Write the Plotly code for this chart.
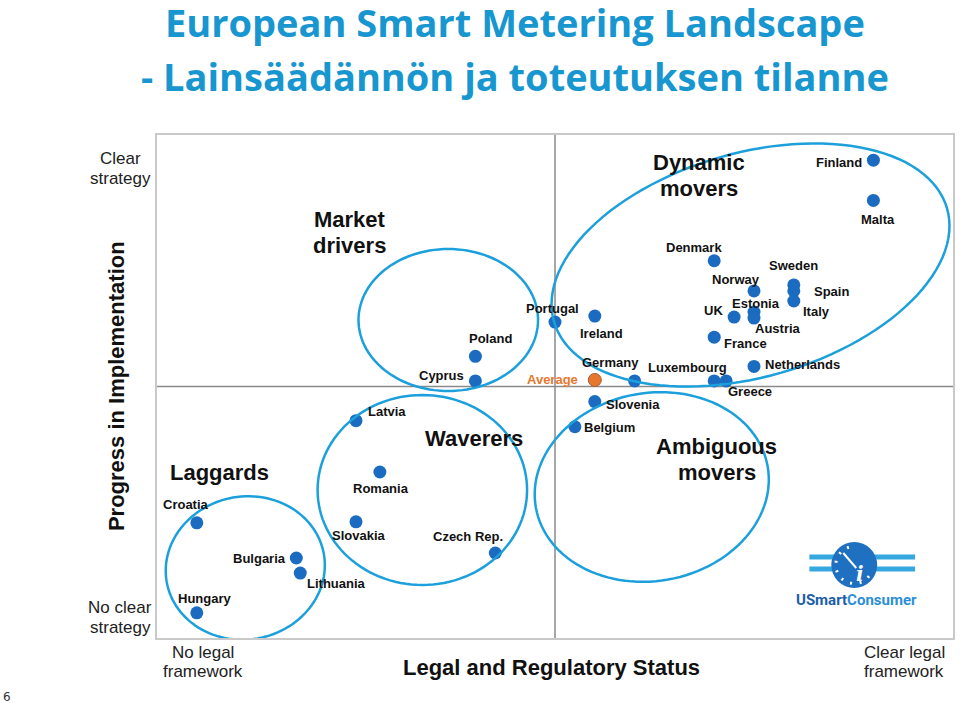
import numpy as np
import plotly.graph_objects as go

# ---------------- data ----------------
countries = ["Finland", "Malta", "Denmark", "Norway", "Sweden", "Spain", "Italy",
             "Estonia", "Austria", "UK", "France", "Netherlands", "Luxembourg",
             "Greece", "Germany", "Portugal", "Ireland", "Poland", "Cyprus",
             "Slovenia", "Belgium", "Latvia", "Romania", "Slovakia", "Czech Rep.",
             "Croatia", "Bulgaria", "Lithuania", "Hungary"]
legal_status = [90.0, 90.0, 70.0, 75.0, 80.0, 80.0, 80.0,
                75.0, 75.0, 72.5, 70.0, 75.0, 70.0,
                71.5, 60.0, 50.0, 55.0, 40.0, 40.0,
                55.0, 52.5, 25.0, 28.0, 25.0, 42.5,
                5.0, 17.5, 18.0, 5.0]
implementation = [95.0, 87.0, 75.0, 69.0, 70.2, 69.0, 67.0,
                  64.8, 63.6, 63.8, 59.8, 54.0, 51.1,
                  51.1, 51.1, 62.8, 64.0, 56.0, 51.1,
                  47.0, 42.0, 43.2, 33.0, 23.1, 16.9,
                  22.9, 15.9, 12.9, 5.0]
average_label = "Average"
average_legal = 55.0
average_implementation = 51.3

# ---------------- layout geometry (pixels) ----------------
W, H = 960, 703
PL, PR, PT, PB = 157, 955, 135, 638


def px2x(px):
    return (px - PL) / (PR - PL) * 100.0


def py2y(py):
    return (PB - py) / (PB - PT) * 100.0


def px2paper(px):
    return (px - PL) / (PR - PL)


def py2paper(py):
    return (PB - py) / (PB - PT)


# label offsets in pixels (dx right, dy down), anchor
label_style = {
    "Finland": (-9, 2, "right"), "Malta": (5, 19, "center"),
    "Denmark": (-20, -13, "center"), "Norway": (-18, -11, "center"),
    "Sweden": (0, -19, "center"), "Spain": (18, 1, "left"),
    "Italy": (7, 11, "left"), "Estonia": (2, -9, "center"),
    "Austria": (24, 10, "center"), "UK": (-21, -7, "center"),
    "France": (31, 6, "center"), "Netherlands": (9, -2, "left"),
    "Luxembourg": (-27, -13, "center"), "Greece": (24, 11, "center"),
    "Germany": (-24, -18, "center"), "Portugal": (-3, -14, "center"),
    "Ireland": (7, 17, "center"), "Poland": (15, -18, "center"),
    "Cyprus": (-34, -5, "center"), "Slovenia": (38, 3, "center"),
    "Belgium": (35, 1, "center"), "Latvia": (31, -9, "center"),
    "Romania": (1, 16, "center"), "Slovakia": (3, 14, "center"),
    "Czech Rep.": (-27, -16, "center"), "Croatia": (-11, -18, "center"),
    "Bulgaria": (-37, 0, "center"), "Lithuania": (36, 10, "center"),
    "Hungary": (8, -14, "center"),
}

DOT = "#1b6cc0"
ELL = "#1ca0dc"
LABEL_FONT = "Liberation Sans, Arial, sans-serif"

fig = go.Figure()

fig.add_trace(go.Scatter(
    x=legal_status, y=implementation, mode="markers",
    marker=dict(size=13, color=DOT, line=dict(width=0)),
    text=countries, hoverinfo="text", showlegend=False, cliponaxis=False))
fig.add_trace(go.Scatter(
    x=[average_legal], y=[average_implementation], mode="markers",
    marker=dict(size=13, color="#e8772e", line=dict(width=1, color="#a85a2a")),
    text=[average_label], hoverinfo="text", showlegend=False, cliponaxis=False))

annotations = []
for c, xv, yv in zip(countries, legal_status, implementation):
    dx, dy, anc = label_style[c]
    annotations.append(dict(
        x=xv, y=yv, xref="x", yref="y", text=c, showarrow=False,
        xshift=dx, yshift=-dy, xanchor=anc, yanchor="middle",
        font=dict(family=LABEL_FONT, size=13, color="#111111", weight="bold")))
annotations.append(dict(
    x=average_legal, y=average_implementation, xref="x", yref="y",
    text=average_label, showarrow=False, xshift=-15, yshift=0,
    xanchor="right", yanchor="middle",
    font=dict(family=LABEL_FONT, size=13, color="#e8772e", weight="bold")))


def text_px(px, py, txt, size, color="#111111", weight="normal",
            family=LABEL_FONT, anchor="center", angle=0):
    annotations.append(dict(
        x=px2paper(px), y=py2paper(py), xref="paper", yref="paper",
        text=txt, showarrow=False, xanchor=anchor, yanchor="middle",
        textangle=angle,
        font=dict(family=family, size=size, color=color, weight=weight)))


# group labels
group_lines = [
    ("Market", 350, 219), ("drivers", 350, 245),
    ("Dynamic", 700, 162), ("movers", 700, 188),
    ("Waverers", 475, 438),
    ("Laggards", 220, 473),
    ("Ambiguous", 718, 446), ("movers", 718, 472),
]
for t, gx, gy in group_lines:
    text_px(gx, gy, t, 22, weight="bold")

# corner labels
corner_lines = [
    ("Clear", 120, 158), ("strategy", 120, 178),
    ("No clear", 120, 607), ("strategy", 120, 627),
    ("No legal", 203, 652), ("framework", 203, 671),
    ("Clear legal", 906, 652), ("framework", 906, 671),
]
for t, cx, cy in corner_lines:
    text_px(cx, cy, t, 17, color="#222222")

# axis titles
text_px(552, 667, "Legal and Regulatory Status", 22, weight="bold")
text_px(116, 386, "Progress in Implementation", 22, weight="bold", angle=-90)

# slide title
TITLE_C = "#1796cf"
text_px(516, 22, "European Smart Metering Landscape", 38, color=TITLE_C,
        weight="bold", family="Open Sans, Lato, sans-serif")
text_px(516, 76, "- Lainsäädännön ja toteutuksen tilanne", 38, color=TITLE_C,
        weight="bold", family="Open Sans, Lato, sans-serif")

# page number
text_px(7, 697, "6", 12, color="#333333", family="DejaVu Sans, sans-serif")

# logo text
annotations.append(dict(
    x=px2paper(858), y=py2paper(600), xref="paper", yref="paper",
    text="<span style='color:#1a5ea8'>USmart</span><span style='color:#2b8fd6'>Consumer</span>",
    showarrow=False, xanchor="center", yanchor="middle",
    font=dict(family="Roboto, sans-serif", size=15, weight="bold")))
annotations.append(dict(
    x=px2paper(862), y=py2paper(574), xref="paper", yref="paper",
    text="<i>i</i>", showarrow=False, xanchor="center", yanchor="middle",
    font=dict(family="DejaVu Serif, serif", size=20, color="white", weight="bold")))

shapes = []


def ellipse_path(cx, cy, a, b, deg):
    t = np.linspace(0, 2 * np.pi, 121)
    th = np.deg2rad(deg)
    xs = cx + a * np.cos(t) * np.cos(th) - b * np.sin(t) * np.sin(th)
    ys = cy - (a * np.cos(t) * np.sin(th) + b * np.sin(t) * np.cos(th))
    pts = [f"{px2x(x):.3f},{py2y(y):.3f}" for x, y in zip(xs, ys)]
    return "M" + " L".join(pts) + " Z"


# quadrant lines
shapes.append(dict(type="line", xref="x", yref="y", x0=50, x1=50, y0=0, y1=100,
                   line=dict(color="#8a8a8a", width=1.5), layer="below"))
shapes.append(dict(type="line", xref="x", yref="y", x0=px2x(153), x1=100, y0=50, y1=50,
                   line=dict(color="#8a8a8a", width=1.5), layer="below"))

# group ellipses
for cx, cy, a, b, deg in [(449, 320, 90, 71, 0), (752, 265, 205, 112, 16),
                          (423, 490, 105, 95, 0), (245.5, 568, 80, 71.5, 10),
                          (653, 487, 118, 94, 10)]:
    shapes.append(dict(type="path", xref="x", yref="y",
                       path=ellipse_path(cx, cy, a, b, deg),
                       line=dict(color=ELL, width=2.5), fillcolor="rgba(0,0,0,0)",
                       layer="above"))

# logo graphics
for yb in (557, 569):
    shapes.append(dict(type="rect", xref="x", yref="y",
                       x0=px2x(811), x1=px2x(917), y0=py2y(yb - 2.5), y1=py2y(yb + 2.5),
                       line=dict(width=0), fillcolor="#35a8e0", layer="above"))
shapes.append(dict(type="circle", xref="x", yref="y",
                   x0=px2x(833), x1=px2x(879), y0=py2y(542), y1=py2y(588),
                   line=dict(width=0), fillcolor="#1f70c0", layer="above"))
for ang in range(110, 330, 30):
    r1, r2 = 17, 20
    ca, sa = np.cos(np.deg2rad(ang)), np.sin(np.deg2rad(ang))
    shapes.append(dict(type="line", xref="x", yref="y",
                       x0=px2x(856 + r1 * ca), y0=py2y(565 - r1 * sa),
                       x1=px2x(856 + r2 * ca), y1=py2y(565 - r2 * sa),
                       line=dict(color="white", width=2), layer="above"))
shapes.append(dict(type="line", xref="x", yref="y",
                   x0=px2x(845), y0=py2y(553), x1=px2x(858), y1=py2y(568),
                   line=dict(color="white", width=2), layer="above"))

fig.update_layout(
    width=W, height=H, autosize=False,
    margin=dict(l=PL, r=W - PR, t=PT, b=H - PB, pad=0),
    paper_bgcolor="white", plot_bgcolor="white",
    xaxis=dict(range=[0, 100], showgrid=False, zeroline=False, showticklabels=False,
               ticks="", showline=True, mirror=True, linecolor="#c9c9c9", linewidth=1.5,
               fixedrange=True),
    yaxis=dict(range=[0, 100], showgrid=False, zeroline=False, showticklabels=False,
               ticks="", showline=True, mirror=True, linecolor="#c9c9c9", linewidth=1.5,
               fixedrange=True),
    shapes=shapes, annotations=annotations, showlegend=False,
)

fig.write_html("out.html", config={"displayModeBar": False})
